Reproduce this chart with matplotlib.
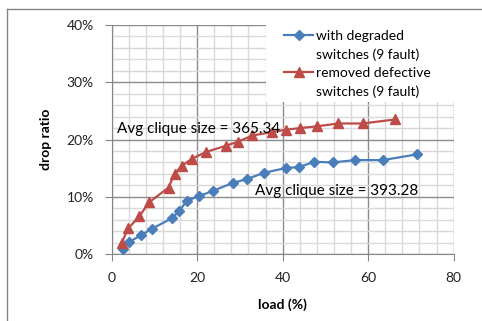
import numpy as np
import matplotlib
matplotlib.use("Agg")
import matplotlib.pyplot as plt
from matplotlib.lines import Line2D
from matplotlib.patches import Rectangle
from matplotlib.ticker import MultipleLocator, FuncFormatter

plt.rcParams['font.family'] = ['Lato', 'DejaVu Sans']

# data
load_degraded = [2.7, 4.1, 6.9, 9.4, 14.2, 15.8, 17.6, 20.4, 23.6, 28.3,
                 31.7, 35.7, 40.7, 43.9, 47.4, 51.7, 57.0, 63.4, 71.4]
drop_degraded = [0.9, 2.1, 3.3, 4.4, 6.3, 7.5, 9.3, 10.1, 11.0, 12.4,
                 13.1, 14.2, 15.0, 15.2, 16.1, 16.0, 16.4, 16.4, 17.4]
load_removed = [2.3, 3.9, 6.5, 8.7, 13.3, 14.7, 16.4, 18.7, 22.0, 26.7,
                29.5, 32.9, 37.6, 40.7, 44.1, 48.0, 53.0, 58.7, 66.3]
drop_removed = [1.9, 4.5, 6.6, 9.0, 11.6, 14.0, 15.4, 16.6, 17.8, 18.9,
                19.6, 20.7, 21.3, 21.7, 22.0, 22.3, 22.8, 22.8, 23.5]
labels = ["with degraded\nswitches (9 fault)", "removed defective\nswitches (9 fault)"]
notes = ["Avg clique size = 365.34", "Avg clique size = 393.28"]

blue = '#4a7ebb'
red = '#be4b48'

fig = plt.figure(figsize=(4.82, 3.21), dpi=100)
ax = fig.add_axes([0.2317, 0.2087, 0.7094, 0.7134])

ax.plot(load_degraded, drop_degraded, color=blue, marker='D', markersize=5,
        linewidth=1.6, zorder=3)
ax.plot(load_removed, drop_removed, color=red, marker='^', markersize=6.5,
        linewidth=1.6, zorder=3)

ax.set_xlim(0, 80)
ax.set_ylim(0, 40)
ax.xaxis.set_major_locator(MultipleLocator(20))
ax.xaxis.set_minor_locator(MultipleLocator(4))
ax.yaxis.set_major_locator(MultipleLocator(10))
ax.yaxis.set_minor_locator(MultipleLocator(2))
ax.yaxis.set_major_formatter(FuncFormatter(lambda v, p: f"{v:.0f}%"))
ax.grid(which='minor', color='#d9d9d9', linewidth=1.0, zorder=0)
ax.grid(which='major', color='#8c8c8c', linewidth=1.0, zorder=1)
ax.set_axisbelow(True)
for s in ['top', 'right']:
    ax.spines[s].set_visible(False)
for s in ['left', 'bottom']:
    ax.spines[s].set_color('#868686')
ax.tick_params(which='major', length=5, color='#868686', labelsize=10,
               labelcolor='#222222', pad=8)
ax.tick_params(which='minor', length=0)
ax.set_xlabel('load (%)', fontsize=10, fontweight='bold', labelpad=10)
ax.set_ylabel('drop ratio', fontsize=10, fontweight='bold', labelpad=10)

# white legend box covering the grid in the top right
ax.add_patch(Rectangle((0.451, 0.664), 0.549, 0.336, transform=ax.transAxes,
                       facecolor='white', edgecolor='none', zorder=4))

# legend, marker lined up with first line of each label
handles = [Line2D([], [], color=blue, marker='D', markersize=5, linewidth=1.6),
           Line2D([], [], color='none'),
           Line2D([], [], color=red, marker='^', markersize=6.5, linewidth=1.6),
           Line2D([], [], color='none')]
texts = []
for lab in labels:
    texts.extend(lab.split('\n'))
leg = ax.legend(handles, texts, loc='upper left', bbox_to_anchor=(0.504, 0.977),
                borderaxespad=0, borderpad=0, fontsize=10, frameon=False,
                handlelength=2.1, handletextpad=0.22, labelspacing=0.45)
leg.set_zorder(5)

ax.text(1.2, 21.9, notes[0], fontsize=11, va='center', ha='left', zorder=4)
ax.text(33.5, 11.0, notes[1], fontsize=11, va='center', ha='left', zorder=4)

# chart border (left and top edges)
fig.add_artist(Line2D([7 / 482, 7 / 482], [0, 1 - 9 / 321], color='#868686', linewidth=1))
fig.add_artist(Line2D([7 / 482, 1], [1 - 9 / 321, 1 - 9 / 321], color='#868686', linewidth=1))

fig.savefig('out.png', dpi=100)
